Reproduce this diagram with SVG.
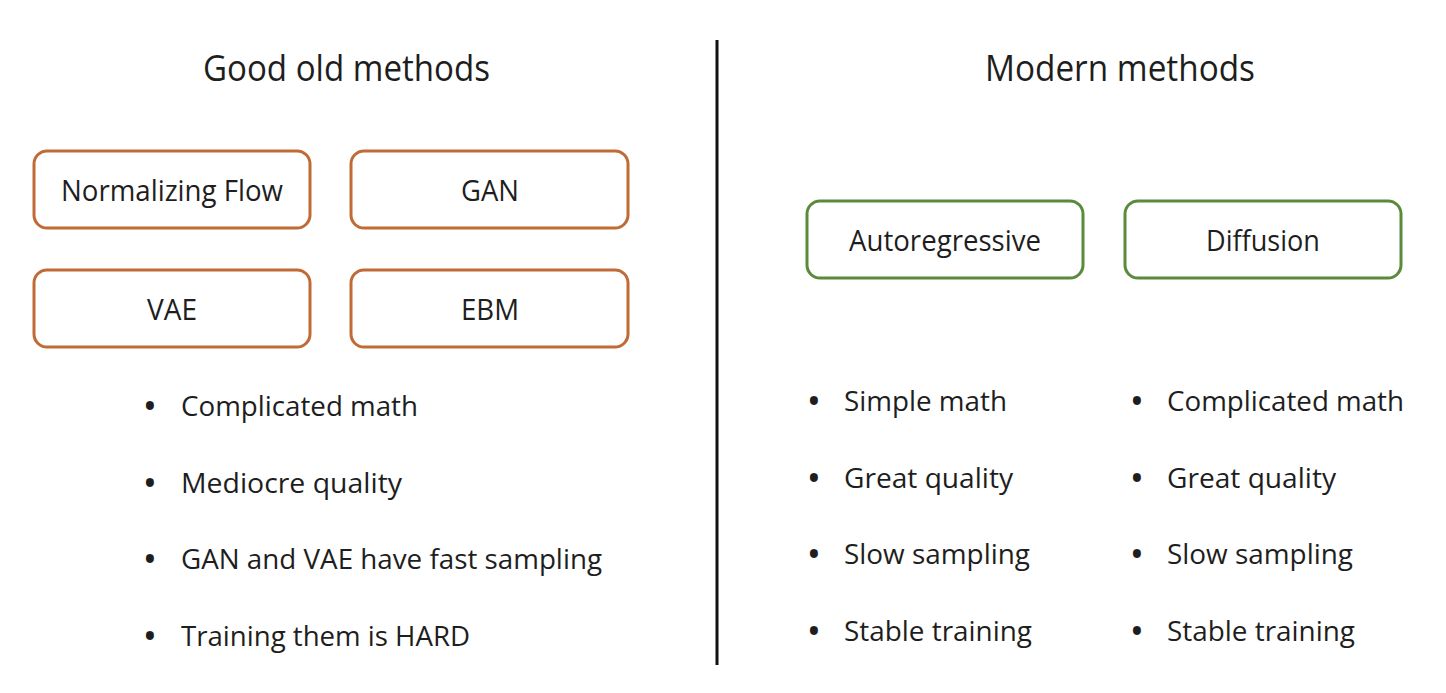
<svg xmlns="http://www.w3.org/2000/svg" width="1446" height="693" viewBox="0 0 1446 693">
<style>
text{font-family:"Open Sans","Noto Sans","DejaVu Sans",sans-serif;fill:#1e1e1e}
.title{font-size:36px}
.lbl{font-size:29px;text-anchor:middle}
.bul{font-size:28px}
.dot{font-size:38px;text-anchor:middle}
.old{fill:#fff;stroke:#c06a35;stroke-width:3}
.mod{fill:#fff;stroke:#5b8a3c;stroke-width:3}
</style>
<rect width="1446" height="693" fill="#fff"/>
<g id="divider"><line x1="717" y1="40" x2="717" y2="665" stroke="#111" stroke-width="3"/></g>
<g id="titles">
<text class="title" x="346.5" y="81" text-anchor="middle" textLength="287" lengthAdjust="spacingAndGlyphs">Good old methods</text>
<text class="title" x="1120" y="81" text-anchor="middle" textLength="270" lengthAdjust="spacingAndGlyphs">Modern methods</text>
</g>
<g id="node-nf"><rect class="old" x="34" y="151" width="276" height="77" rx="13"/><text class="lbl" x="172" y="201" textLength="222" lengthAdjust="spacingAndGlyphs">Normalizing Flow</text></g>
<g id="node-gan"><rect class="old" x="351" y="151" width="277" height="77" rx="13"/><text class="lbl" x="490" y="201" textLength="58" lengthAdjust="spacingAndGlyphs">GAN</text></g>
<g id="node-vae"><rect class="old" x="34" y="270" width="276" height="77" rx="13"/><text class="lbl" x="172" y="320" textLength="50" lengthAdjust="spacingAndGlyphs">VAE</text></g>
<g id="node-ebm"><rect class="old" x="351" y="270" width="277" height="77" rx="13"/><text class="lbl" x="490" y="320" textLength="58" lengthAdjust="spacingAndGlyphs">EBM</text></g>
<g id="node-ar"><rect class="mod" x="807" y="201" width="276" height="77" rx="13"/><text class="lbl" x="945" y="251" textLength="192" lengthAdjust="spacingAndGlyphs">Autoregressive</text></g>
<g id="node-diff"><rect class="mod" x="1125" y="201" width="276" height="77" rx="13"/><text class="lbl" x="1263" y="251" textLength="114" lengthAdjust="spacingAndGlyphs">Diffusion</text></g>
<g id="connectors"></g>
<g id="bullets-old">
<text class="dot" x="150" y="420">•</text><text class="bul" x="181" y="416" textLength="237" lengthAdjust="spacingAndGlyphs">Complicated math</text>
<text class="dot" x="150" y="497">•</text><text class="bul" x="181" y="493" textLength="221" lengthAdjust="spacingAndGlyphs">Mediocre quality</text>
<text class="dot" x="150" y="573">•</text><text class="bul" x="181" y="569" textLength="421" lengthAdjust="spacingAndGlyphs">GAN and VAE have fast sampling</text>
<text class="dot" x="150" y="650">•</text><text class="bul" x="181" y="646" textLength="289" lengthAdjust="spacingAndGlyphs">Training them is HARD</text>
</g>
<g id="bullets-ar">
<text class="dot" x="814" y="415">•</text><text class="bul" x="844" y="411" textLength="163" lengthAdjust="spacingAndGlyphs">Simple math</text>
<text class="dot" x="814" y="492">•</text><text class="bul" x="844" y="488" textLength="169" lengthAdjust="spacingAndGlyphs">Great quality</text>
<text class="dot" x="814" y="568">•</text><text class="bul" x="844" y="564" textLength="186" lengthAdjust="spacingAndGlyphs">Slow sampling</text>
<text class="dot" x="814" y="645">•</text><text class="bul" x="844" y="641" textLength="188" lengthAdjust="spacingAndGlyphs">Stable training</text>
</g>
<g id="bullets-diff">
<text class="dot" x="1137" y="415">•</text><text class="bul" x="1167" y="411" textLength="237" lengthAdjust="spacingAndGlyphs">Complicated math</text>
<text class="dot" x="1137" y="492">•</text><text class="bul" x="1167" y="488" textLength="169" lengthAdjust="spacingAndGlyphs">Great quality</text>
<text class="dot" x="1137" y="568">•</text><text class="bul" x="1167" y="564" textLength="186" lengthAdjust="spacingAndGlyphs">Slow sampling</text>
<text class="dot" x="1137" y="645">•</text><text class="bul" x="1167" y="641" textLength="188" lengthAdjust="spacingAndGlyphs">Stable training</text>
</g>
</svg>
